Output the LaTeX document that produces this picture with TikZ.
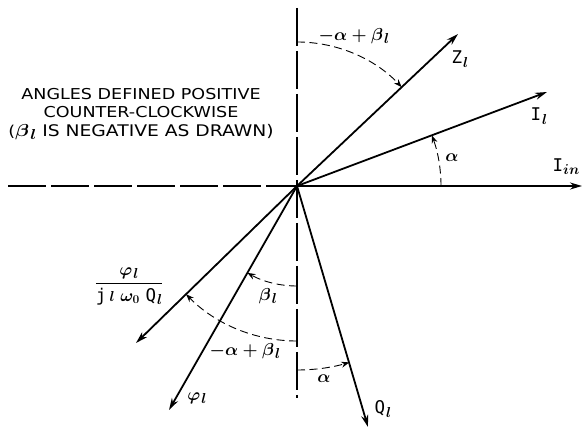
\documentclass[tikz,border=0pt]{standalone}
\usepackage{amsmath}
\usepackage{fontspec}
\newfontfamily\lettering{DejaVu Sans}
\newfontfamily\letteringmono{DejaVu Sans Mono}
\usetikzlibrary{arrows.meta}
\newcommand{\ls}{\kern1pt\raisebox{-3.5pt}{\fontsize{14}{14}\selectfont\boldmath$l$}}
\newcommand{\lplain}{\mbox{\fontsize{15}{15}\selectfont\boldmath$l$}}
\newcommand{\capletter}[1]{{\fontsize{17.5}{17.5}\selectfont\letteringmono #1}}
\begin{document}
\begin{tikzpicture}[x=1pt,y=1pt,
  vec/.style={line width=1.8pt, -{Stealth[length=12pt,width=7pt]}},
  axis/.style={line width=1.3pt, dash pattern=on 38pt off 5pt},
  arcline/.style={line width=0.9pt, dash pattern=on 8pt off 4.5pt, -{Stealth[length=8pt,width=6pt]}},
  lab/.style={inner sep=0pt, font=\fontsize{17}{20}\selectfont\boldmath},
  note/.style={inner sep=0pt, align=center, font=\lettering\fontsize{15}{18.5}\selectfont}
  ]
\useasboundingbox (0,0) rectangle (583,428);
\coordinate (O) at (297,242);
\coordinate (Hl) at (8,242);
\coordinate (Vt) at (297,420);
\coordinate (Vb) at (297,30);
\coordinate (Z) at (458,394);
\coordinate (Il) at (547,336);
\coordinate (Iin) at (582,242);
\coordinate (Q) at (368,1);
\coordinate (F) at (136,85);
\coordinate (P) at (169,18);
% axes
\draw[axis] (Hl) -- (O);
\draw[axis, line width=1.1pt] (Vt) -- (Vb);
% vectors
\draw[vec] (O) -- (Z);
\draw[vec] (O) -- (Il);
\draw[vec] (O) -- (Iin);
\draw[vec] (O) -- (Q);
\draw[vec] (O) -- (F);
\draw[vec] (O) -- (P);
% angle arcs
\draw[arcline] (O) ++(90:144) arc[start angle=90, end angle=43.4, radius=144];
\draw[arcline] (O) ++(0:144) arc[start angle=0, end angle=20.6, radius=144];
\draw[arcline] (O) ++(270:100) arc[start angle=270, end angle=240.3, radius=100];
\draw[arcline] (O) ++(270:155) arc[start angle=270, end angle=224.3, radius=155];
\draw[arcline] (O) ++(270:184) arc[start angle=270, end angle=286.5, radius=184];
% labels
\node[lab] (tZ) at (460,369) {\capletter{Z}\ls};
\node[lab] (tIl) at (539,312) {\capletter{I}\ls};
\node[lab] (tIin) at (566,261) {\capletter{I}\raisebox{-3pt}{\fontsize{14}{14}\selectfont\boldmath$in$}};
\node[lab] (tQ) at (383,19) {\capletter{Q}\ls};
\node[lab] (tphi) at (197,30) {$\varphi$\ls};
\node[lab] (ta1) at (452,270) {$\alpha$};
\node[lab] (ta2) at (324,49) {$\alpha$};
\node[lab] (tab1) at (354,392) {$-\alpha+\beta$\ls};
\node[lab] (tab2) at (245,77) {$-\alpha+\beta$\ls};
\node[lab] (tb) at (268,132) {$\beta$\ls};
\node[lab] (tfrac) at (129,142) {$\dfrac{\varphi\mbox{\ls}}{\mbox{\capletter{j}}\mkern3mu\lplain\mkern5mu\omega_0\mkern5mu\mbox{\capletter{Q}\ls}}$};
\node[note] (tnote) at (141,314) {\scalebox{1.17}[1]{ANGLES DEFINED POSITIVE}\\ \scalebox{1.17}[1]{COUNTER-CLOCKWISE}\\ \scalebox{1.17}[1]{(\fontsize{16}{19}\selectfont\boldmath$\beta$\ls{} IS NEGATIVE AS DRAWN)}};
\end{tikzpicture}
\end{document}
